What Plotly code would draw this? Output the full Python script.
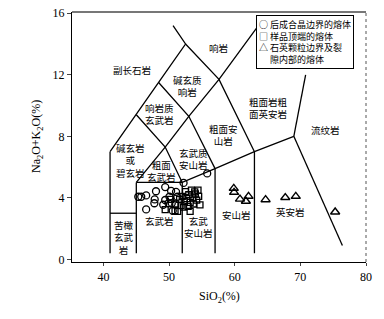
import plotly.graph_objects as go

# ---- data -------------------------------------------------------------
# TAS field boundaries (SiO2 %, Na2O+K2O %)
boundaries = [
    ([41, 41], [0.4, 7]),
    ([41, 45, 48.4, 52.5, 50.6], [7, 9.4, 11.5, 14, 15.2]),
    ([41, 45], [3, 3]),
    ([45, 45], [0.4, 5]),
    ([45, 52, 57, 63, 69], [5, 5, 5.9, 7, 8]),
    ([52, 52], [0.4, 5]),
    ([57, 57], [0.4, 5.9]),
    ([63, 63], [0.4, 7]),
    ([69, 76.4], [8, 0.9]),
    ([45, 49.4, 53, 57.6, 63.6], [5, 7.3, 9.3, 11.7, 15.2]),
    ([52, 49.4, 45], [5, 7.3, 9.4]),
    ([57, 53, 48.4], [5.9, 9.3, 11.5]),
    ([63, 57.6, 52.5], [7, 11.7, 14]),
    ([69, 70.8], [8, 12.0]),
]

# melt after symplectite boundary (circles)
circle_x = [45.3, 45.75, 46.5, 48.0, 47.8, 47.75, 46.5, 49.4, 50.3, 50.05, 51.25,
            49.4, 49.9, 50.4, 49.1, 50.55, 51.05, 52.2, 55.8]
circle_y = [4.07, 4.07, 4.16, 4.43, 3.9, 3.65, 3.25, 4.7, 4.45, 4.07, 4.07,
            3.86, 3.65, 3.65, 3.55, 3.16, 4.39, 4.97, 5.59]

# melt at sample top (squares)
square_x = [49.4, 50.9, 51.3, 51.6, 51.8, 52.0, 52.2, 52.3, 52.5, 52.7, 52.9, 53.0,
            53.2, 53.2, 53.4, 53.6, 53.7, 53.9, 54.0, 54.2, 54.4, 54.5, 54.7, 51.0, 50.2]
square_y = [3.23, 3.16, 3.12, 3.9, 3.5, 4.1, 3.4, 3.75, 4.4, 3.95, 3.45, 4.2,
            3.12, 3.7, 4.5, 4.0, 3.6, 4.39, 4.25, 3.85, 4.5, 4.1, 3.54, 3.6, 3.9]

# melt along quartz grain boundaries and fractures (triangles)
tri_x = [59.85, 59.9, 60.8, 61.7, 62.1, 64.7, 67.7, 69.3, 75.3]
tri_y = [4.62, 4.36, 3.92, 3.78, 4.1, 3.88, 4.02, 4.1, 3.08]

# field names
field_names = ["副长石岩", "响岩", "碱玄质<br>响岩", "响岩质<br>玄武岩", "粗面安<br>山岩",
               "粗面岩粗<br>面英安岩", "流纹岩", "碱玄岩<br>或<br>碧玄岩", "玄武质<br>安山岩",
               "粗面<br>玄武岩", "玄武岩", "玄武<br>安山岩", "苦橄<br>玄武<br>岩", "安山岩", "英安岩"]
field_x = [44.3, 57.5, 52.75, 48.6, 58.27, 65.08, 73.76, 44.07, 53.7, 48.9, 48.6, 54.47, 43.05, 60.3, 68.43]
field_y = [12.3, 13.77, 11.28, 9.45, 8.06, 9.83, 8.39, 6.41, 6.54, 5.72, 2.49, 2.11, 1.41, 2.91, 3.06]

legend_lines = ["○ 后成合晶边界的熔体", "□ 样品顶端的熔体", "△ 石英颗粒边界及裂", "　 隙内部的熔体"]

x_ticks = [40, 50, 60, 70, 80]
y_ticks = [0, 4, 8, 12, 16]

# ---- figure -----------------------------------------------------------
CJK = "Noto Sans CJK SC"
SERIF = "Liberation Serif"

fig = go.Figure()
for bx, by in boundaries:
    fig.add_trace(go.Scatter(x=bx, y=by, mode="lines",
                             line=dict(color="black", width=1.3),
                             showlegend=False, hoverinfo="skip"))

fig.add_trace(go.Scatter(x=circle_x, y=circle_y, mode="markers", name="后成合晶边界的熔体",
                         marker=dict(symbol="circle-open", size=7, color="black",
                                     line=dict(width=1.3)), showlegend=False))
fig.add_trace(go.Scatter(x=square_x, y=square_y, mode="markers", name="样品顶端的熔体",
                         marker=dict(symbol="square-open", size=6, color="black",
                                     line=dict(width=1.3)), showlegend=False))
fig.add_trace(go.Scatter(x=tri_x, y=tri_y, mode="markers", name="石英颗粒边界及裂隙内部的熔体",
                         marker=dict(symbol="triangle-up-open", size=8, color="black",
                                     line=dict(width=1.4)), showlegend=False))

annotations = []
for t, x, y in zip(field_names, field_x, field_y):
    annotations.append(dict(x=x, y=y, xref="x", yref="y", text=t, showarrow=False,
                            xanchor="center", yanchor="middle",
                            font=dict(family=CJK, size=9.5, color="black"),
                            align="center"))

# legend box
annotations.append(dict(x=0.626, y=0.99, xref="paper", yref="paper", xanchor="left",
                        yanchor="top", text="<br>".join(legend_lines), showarrow=False,
                        align="left", font=dict(family=CJK, size=9, color="black"),
                        bgcolor="white", bordercolor="black", borderwidth=1, borderpad=2))

# axis titles
annotations.append(dict(x=-0.119, y=0.5, xref="paper", yref="paper",
                        xanchor="center", yanchor="middle",
                        text="Na<sub>2</sub>O+K<sub>2</sub>O(%)", textangle=-90,
                        showarrow=False, font=dict(family=SERIF, size=12, color="black")))
annotations.append(dict(x=0.503, y=-0.14, xref="paper", yref="paper",
                        xanchor="center", yanchor="middle",
                        text="SiO<sub>2</sub>(%)", showarrow=False,
                        font=dict(family=SERIF, size=12, color="black")))

fig.update_layout(
    width=384, height=319,
    margin=dict(l=72, r=18, t=6, b=57),
    paper_bgcolor="white", plot_bgcolor="white",
    showlegend=False,
    annotations=annotations,
    shapes=[
        dict(type="line", xref="paper", yref="paper", x0=0, x1=1, y0=1, y1=1,
             line=dict(color="#777777", width=2)),
        dict(type="line", xref="paper", yref="paper", x0=1, x1=1, y0=0, y1=1,
             line=dict(color="#555555", width=1, dash="dot")),
    ],
)
fig.update_xaxes(range=[35.2, 80], tickvals=x_ticks, ticks="outside", ticklen=3,
                 showgrid=False, zeroline=False, showline=True, linecolor="black",
                 linewidth=1.2, ticklabeloverflow="allow",
                 tickfont=dict(family=SERIF, size=12, color="black"))
fig.update_yaxes(range=[-0.17, 16.08], tickvals=y_ticks, ticks="outside", ticklen=4,
                 showgrid=False, zeroline=False, showline=True, linecolor="black",
                 linewidth=1.2, ticklabeloverflow="allow",
                 tickfont=dict(family=SERIF, size=12, color="black"))

fig.write_html("out.html", config={"displayModeBar": False},
               post_script="document.body.style.margin='0';document.body.style.padding='0';")
